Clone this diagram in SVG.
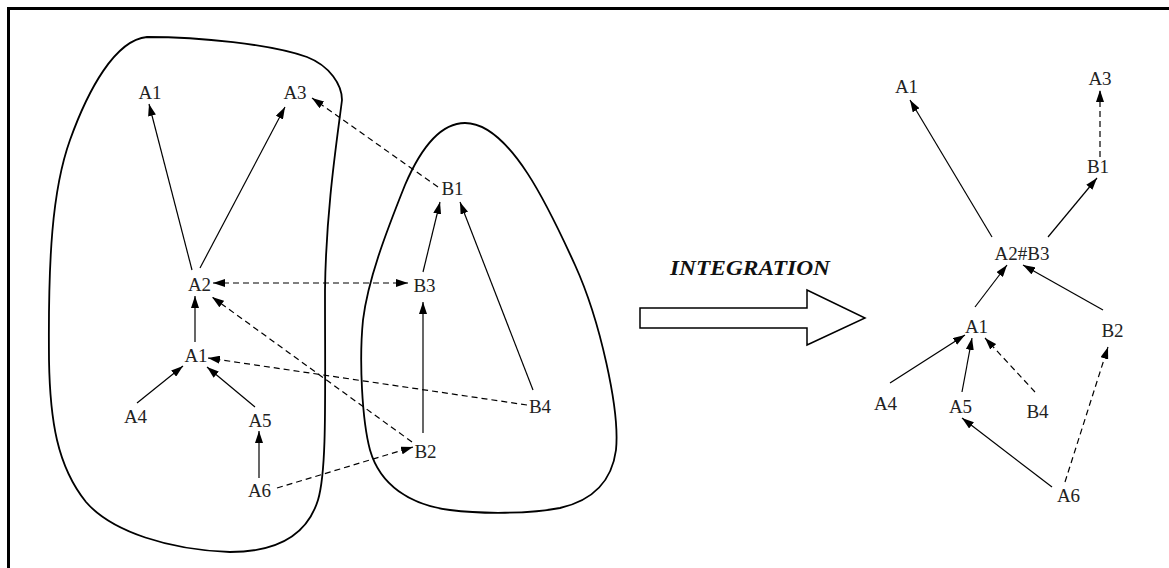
<svg xmlns="http://www.w3.org/2000/svg" width="1169" height="568" viewBox="0 0 1169 568">
  <style>
    .lbl { font-family: "Liberation Serif", "Times New Roman", serif; font-size: 19px; fill: #222; text-anchor: middle; }
    .blob { fill: none; stroke: #000; stroke-width: 1.8; }
    .edge { fill: none; stroke: #000; stroke-width: 1.2; marker-end: url(#head); }
    .dash { stroke-dasharray: 6 4; }
    .both { marker-start: url(#tail); }
    .title { font-family: "Liberation Serif", "Times New Roman", serif; font-size: 20px; font-weight: bold; font-style: italic; fill: #111; }
  </style>
  <defs>
    <marker id="head" viewBox="0 0 12 8" refX="12" refY="4" markerWidth="12" markerHeight="8" markerUnits="userSpaceOnUse" orient="auto">
      <path d="M0,0 L12,4 L0,8 Z" fill="#000"/>
    </marker>
    <marker id="tail" viewBox="0 0 12 8" refX="12" refY="4" markerWidth="12" markerHeight="8" markerUnits="userSpaceOnUse" orient="auto-start-reverse">
      <path d="M0,0 L12,4 L0,8 Z" fill="#000"/>
    </marker>
  </defs>

  <!-- frame -->
  <path d="M8.5,568 L8.5,8.5 L1169,8.5" fill="none" stroke="#000" stroke-width="3"/>

  <!-- source schemas -->
  <g id="schemaA">
    <path class="blob" d="M147,37 C200,37 270,44 307,57 C330,66 342,85 342,100 C337,140 326,210 325,290 C325,400 327,470 318,500 C304,545 262,552 230,552 C170,550 112,532 86,502 C57,466 50,420 49,360 C48,260 52,190 70,140 C88,90 115,40 147,37 Z"/>
  </g>
  <g id="schemaB">
    <path class="blob" d="M465,123 C440,123 420,150 405,185 C385,235 368,280 363,320 C359,360 362,420 370,450 C380,485 410,505 450,510 C480,514 530,514 560,508 C595,500 612,480 616,450 C620,410 600,320 575,265 C550,210 510,123 465,123 Z"/>
  </g>

  <!-- connectors -->
  <g id="connectors">
    <!-- left, schema A -->
    <line class="edge" x1="192" y1="270" x2="149" y2="104"/>
    <line class="edge" x1="200" y1="268" x2="285" y2="107"/>
    <line class="edge" x1="195" y1="342" x2="195" y2="296"/>
    <line class="edge" x1="137" y1="403" x2="183" y2="366"/>
    <line class="edge" x1="255" y1="407" x2="207" y2="367"/>
    <line class="edge" x1="259" y1="478" x2="259" y2="431"/>
    <!-- left, schema B -->
    <line class="edge" x1="423" y1="272" x2="440" y2="202"/>
    <line class="edge" x1="533" y1="390" x2="460" y2="202"/>
    <line class="edge" x1="423" y1="433" x2="423" y2="302"/>
    <!-- left, correspondences -->
    <line class="edge dash" x1="438" y1="187" x2="312" y2="98"/>
    <line class="edge dash both" x1="213" y1="283" x2="408" y2="283"/>
    <line class="edge dash" x1="412" y1="442" x2="212" y2="297"/>
    <line class="edge dash" x1="527" y1="405" x2="208" y2="358"/>
    <line class="edge dash" x1="277" y1="488" x2="413" y2="447"/>
    <!-- right, integrated schema -->
    <line class="edge" x1="992" y1="237" x2="910" y2="100"/>
    <line class="edge" x1="1048" y1="237" x2="1097" y2="178"/>
    <line class="edge dash" x1="1100" y1="157" x2="1100" y2="90"/>
    <line class="edge" x1="975" y1="307" x2="1007" y2="265"/>
    <line class="edge" x1="1103" y1="310" x2="1023" y2="265"/>
    <line class="edge" x1="890" y1="383" x2="965" y2="335"/>
    <line class="edge" x1="962" y1="392" x2="972" y2="338"/>
    <line class="edge dash" x1="1035" y1="392" x2="985" y2="338"/>
    <line class="edge" x1="1052" y1="487" x2="962" y2="418"/>
    <line class="edge dash" x1="1065" y1="482" x2="1108" y2="347"/>
  </g>

  <!-- left nodes -->
  <g id="a1-left"><text class="lbl" x="150" y="99">A1</text></g>
  <g id="a3-left"><text class="lbl" x="295" y="99">A3</text></g>
  <g id="a2-left"><text class="lbl" x="199.5" y="291">A2</text></g>
  <g id="a1b-left"><text class="lbl" x="196" y="362">A1</text></g>
  <g id="a4-left"><text class="lbl" x="135.5" y="423">A4</text></g>
  <g id="a5-left"><text class="lbl" x="260" y="427">A5</text></g>
  <g id="a6-left"><text class="lbl" x="259.5" y="497">A6</text></g>
  <g id="b1-left"><text class="lbl" x="452.5" y="195">B1</text></g>
  <g id="b3-left"><text class="lbl" x="424.5" y="292">B3</text></g>
  <g id="b4-left"><text class="lbl" x="540" y="413">B4</text></g>
  <g id="b2-left"><text class="lbl" x="425.5" y="458">B2</text></g>

  <!-- integration arrow -->
  <g id="integration">
    <text class="title" x="670" y="275" textLength="160" lengthAdjust="spacingAndGlyphs">INTEGRATION</text>
    <polygon points="640,308 807,308 807,290 865,318 807,345 807,328 640,328" fill="#fff" stroke="#000" stroke-width="1.5"/>
  </g>

  <!-- right nodes -->
  <g id="a1-right"><text class="lbl" x="906.5" y="93">A1</text></g>
  <g id="a3-right"><text class="lbl" x="1100" y="85">A3</text></g>
  <g id="b1-right"><text class="lbl" x="1098" y="173">B1</text></g>
  <g id="a2b3-right"><text class="lbl" x="1022" y="260">A2#B3</text></g>
  <g id="a1b-right"><text class="lbl" x="976.5" y="333">A1</text></g>
  <g id="b2-right"><text class="lbl" x="1112.5" y="337">B2</text></g>
  <g id="a4-right"><text class="lbl" x="885.5" y="410">A4</text></g>
  <g id="a5-right"><text class="lbl" x="960.5" y="413">A5</text></g>
  <g id="b4-right"><text class="lbl" x="1037.5" y="418">B4</text></g>
  <g id="a6-right"><text class="lbl" x="1068.5" y="502">A6</text></g>
</svg>
